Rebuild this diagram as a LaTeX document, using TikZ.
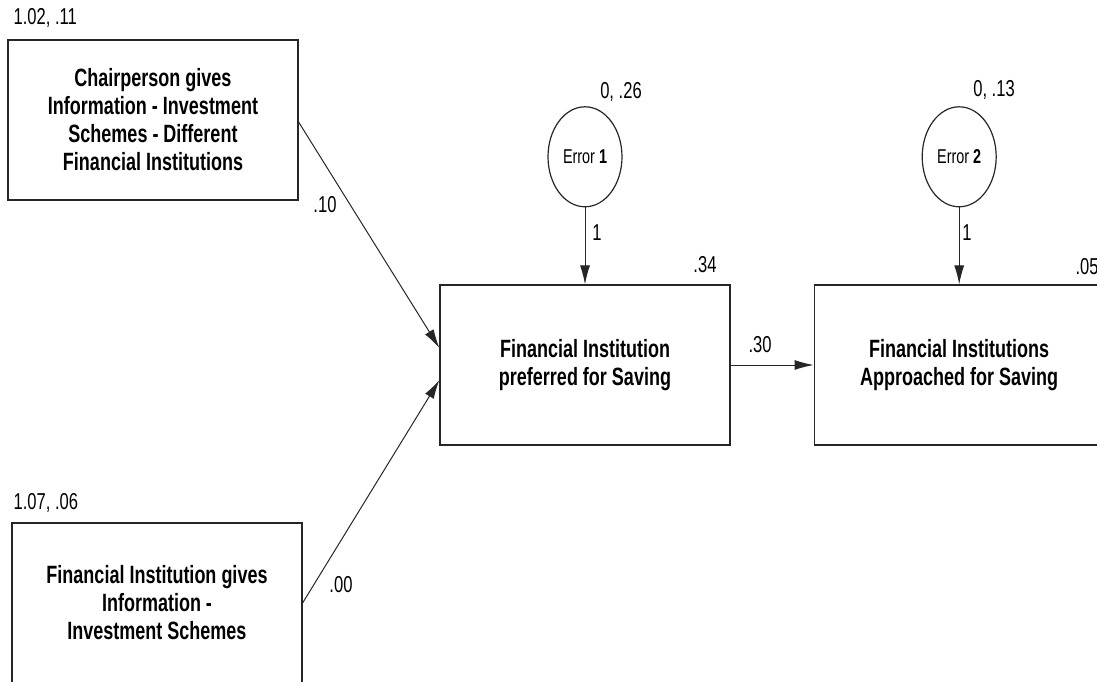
\documentclass[tikz,border=0pt]{standalone}
\usepackage{fontspec}
\setmainfont{Liberation Sans}[FakeStretch=0.72]
\usetikzlibrary{positioning,shapes.geometric,arrows.meta}

\begin{document}
\begin{tikzpicture}[x=1pt, y=-1pt, line width=1.2pt, draw=black!85,
  main/.style = {draw, rectangle, minimum width=290pt, minimum height=160pt, inner sep=0pt, align=center, font=\fontsize{25}{28}\selectfont\bfseries},
  err/.style = {draw, ellipse, minimum width=74pt, minimum height=100pt, inner sep=0pt, font=\fontsize{20}{22}\selectfont},
  num/.style = {inner sep=0pt, font=\fontsize{23}{25}\selectfont},
  arr/.style = {-{Latex[length=19pt,width=10pt]}, line width=1pt}]
\useasboundingbox (0,0) rectangle (1097,682);
\node[main] (1) at (153,120) {Chairperson gives\\Information - Investment\\Schemes - Different\\Financial Institutions};
\node[main] (2) at (157,603) {Financial Institution gives\\Information -\\Investment Schemes};
\node[main] (3) at (585,365) {Financial Institution\\preferred for Saving};
\node[main] (4) [right=83pt of 3] {Financial Institutions\\Approached for Saving};
\node[err] (5) [above=77pt of 3] {Error \textbf{1}};
\node[err] (6) [above=77pt of 4] {Error \textbf{2}};
\node[num, anchor=west] (m1) at (13,18) {1.02, .11};
\node[num, anchor=west] (m2) at (13,503) {1.07, .06};
\node[num] (v5) at (621,92) {0, .26};
\node[num] (v6) at (994,90) {0, .13};
\node[num] (r3) at (705,265) {.34};
\node[num, anchor=west] (r4) at (1075,267) {.05};
\node[num] (w13) at (325,205) {.10};
\node[num] (w23) at (341,585) {.00};
\node[num] (w34) at (760,345) {.30};
\node[num] (w53) at (597,233) {1};
\node[num] (w64) at (967,233) {1};
\draw[arr] ([yshift=-2pt]1.east) -- ([yshift=17pt]3.west);
\draw[arr] (2.east) -- ([yshift=-15pt]3.west);
\draw[arr] (3) -- (4);
\draw[arr] (5) -- (3);
\draw[arr] (6) -- (4);
\end{tikzpicture}
\end{document}
